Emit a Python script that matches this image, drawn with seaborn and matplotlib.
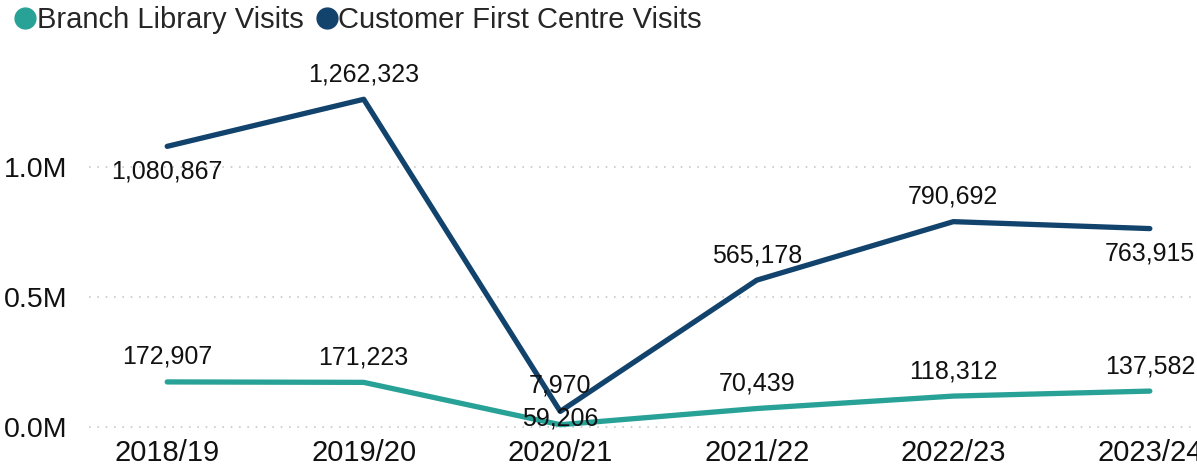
import pandas as pd
import matplotlib.pyplot as plt
import seaborn as sns
from matplotlib.ticker import FuncFormatter
from matplotlib.lines import Line2D

years = ['2018/19', '2019/20', '2020/21', '2021/22', '2022/23', '2023/24']
branch = [172907, 171223, 7970, 70439, 118312, 137582]
cfc = [1080867, 1262323, 59206, 565178, 790692, 763915]

series = ['Branch Library Visits', 'Customer First Centre Visits']
colors = ['#28a197', '#12436d']

df = pd.DataFrame({
    'pos': list(range(len(years))) * 2,
    'visits': branch + cfc,
    'series': [series[0]] * len(years) + [series[1]] * len(years),
})

sns.set_style('white')
plt.rcParams['font.family'] = ['Liberation Sans', 'DejaVu Sans']

fig = plt.figure(figsize=(11.97, 4.67), dpi=100)
ax = fig.add_axes([0.074, 0.075, 0.926, 0.80])

sns.lineplot(data=df, x='pos', y='visits', hue='series', palette=colors,
             linewidth=3.8, ax=ax, legend=False, solid_capstyle='round')

# label offsets in points (power bi style placement)
branch_off = [18, 18, 28, 18, 18, 18]
cfc_off = [-18, 18, -5, 18, 18, -18]
for vals, offs in [(branch, branch_off), (cfc, cfc_off)]:
    for i, (v, o) in enumerate(zip(vals, offs)):
        ax.annotate(f'{v:,}', (i, v), xytext=(0, o), textcoords='offset points',
                    ha='center', va='center', fontsize=18, color='#111111',
                    annotation_clip=False)

ax.set_xlim(-0.4, 5.24)
ax.set_ylim(-0.02e6, 1.42e6)
ax.set_xticks(range(len(years)))
ax.set_xticklabels(years)
ax.set_yticks([0, 0.5e6, 1.0e6])
ax.yaxis.set_major_formatter(FuncFormatter(lambda v, p: f'{v/1e6:.1f}M'))
ax.tick_params(axis='x', labelsize=21, pad=5, length=0, labelcolor='#111111')
ax.tick_params(axis='y', labelsize=20.5, pad=15, length=0, labelcolor='#111111')
ax.set_xlabel('')
ax.set_ylabel('')
ax.grid(axis='y', color='#c8c8c8', linestyle=(0, (1, 4)), linewidth=1.2)
ax.grid(axis='x', visible=False)
sns.despine(ax=ax, left=True, bottom=True)

handles = [Line2D([], [], marker='o', linestyle='', color=c, markersize=15) for c in colors]
fig.legend(handles, series, loc='upper left', bbox_to_anchor=(-0.006, 1.025), ncol=2,
           frameon=False, fontsize=21, handletextpad=-0.1, columnspacing=0.3,
           handlelength=1.0, borderaxespad=0.2)

fig.savefig('out.png', dpi=100)
